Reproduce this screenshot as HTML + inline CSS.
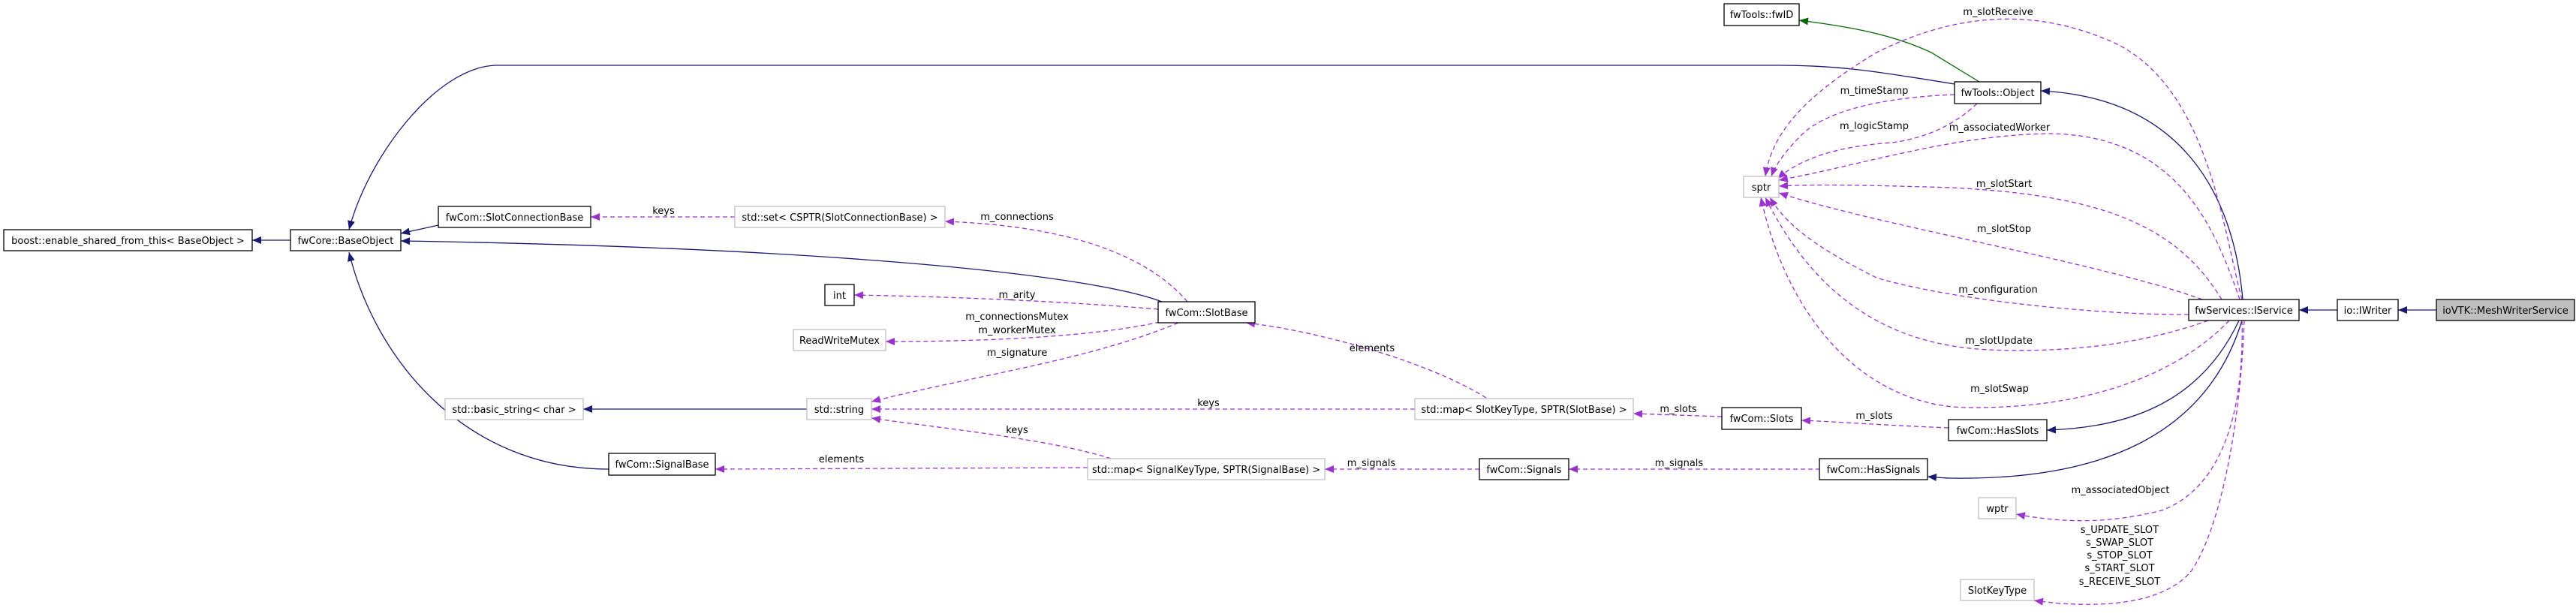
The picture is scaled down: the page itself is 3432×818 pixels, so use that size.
<!DOCTYPE html>
<html><head><meta charset="utf-8"><style>
html,body{margin:0;padding:0;background:#fff;}
svg{display:block;}
text{font-family:"DejaVu Sans","Liberation Sans",sans-serif;font-size:13px;fill:#000;}
.nb{fill:#fff;stroke:#000;stroke-width:1.3;}
.ng{fill:#fff;stroke:#bfbfbf;stroke-width:1.3;}
.b{fill:none;stroke:#191970;stroke-width:1.3;}
.g{fill:none;stroke:#006400;stroke-width:1.3;}
.p{fill:none;stroke:#9a32cd;stroke-width:1.3;stroke-dasharray:6,4;}
</style></head><body>
<svg width="3432" height="818" viewBox="0 0 3432 818" xmlns="http://www.w3.org/2000/svg">
<defs>
<marker id="mb" markerUnits="userSpaceOnUse" markerWidth="14" markerHeight="12" refX="12" refY="5" orient="auto"><path d="M0,0 L12,5 L0,10 Z" fill="#191970"/></marker>
<marker id="mg" markerUnits="userSpaceOnUse" markerWidth="14" markerHeight="12" refX="12" refY="5" orient="auto"><path d="M0,0 L12,5 L0,10 Z" fill="#006400"/></marker>
<marker id="mp" markerUnits="userSpaceOnUse" markerWidth="14" markerHeight="12" refX="12" refY="5" orient="auto"><path d="M0,0 L12,5 L0,10 Z" fill="#9a32cd"/></marker>
</defs>

<!-- blue inheritance -->
<path class="b" marker-end="url(#mb)" d="M387,320 L336,320"/>
<path class="b" marker-end="url(#mb)" d="M584,300 L534,311"/>
<path class="b" marker-end="url(#mb)" d="M1548,402 C1450,365 1100,330 534,321"/>
<path class="b" marker-end="url(#mb)" d="M2604,112 C2500,95 2450,87 2370,87 L660,87 C580,90 490,210 465,306"/>
<path class="b" marker-end="url(#mb)" d="M811,625 C620,625 500,480 465,336"/>
<path class="b" marker-end="url(#mb)" d="M1075,545 L777,545"/>
<path class="b" marker-end="url(#mb)" d="M2988,399 C2975,250 2900,130 2719,121"/>
<path class="g" marker-end="url(#mg)" d="M2637,109 L2573,70 C2520,45 2460,35 2397,27"/>
<path class="b" marker-end="url(#mb)" d="M2983,427 C2930,540 2830,570 2727,573"/>
<path class="b" marker-end="url(#mb)" d="M2987,427 C2940,580 2800,640 2600,637 C2590,637 2580,636 2568,635"/>
<path class="b" marker-end="url(#mb)" d="M3114,413 L3063,413"/>
<path class="b" marker-end="url(#mb)" d="M3246,413 L3195,413"/>

<!-- purple usage -->
<path class="p" marker-end="url(#mp)" d="M979,289 L787,289"/>
<path class="p" marker-end="url(#mp)" d="M1582,402 C1520,330 1400,300 1259,295"/>
<path class="p" marker-end="url(#mp)" d="M1543,412 C1400,400 1250,395 1138,393"/>
<path class="p" marker-end="url(#mp)" d="M1545,429 C1450,450 1300,455 1180,455"/>
<path class="p" marker-end="url(#mp)" d="M1570,430 C1450,480 1300,500 1161,535"/>
<path class="p" marker-end="url(#mp)" d="M1885,545 L1161,545"/>
<path class="p" marker-end="url(#mp)" d="M1480,611 C1400,585 1250,570 1161,557"/>
<path class="p" marker-end="url(#mp)" d="M1980,530 C1900,480 1750,440 1660,430"/>
<path class="p" marker-end="url(#mp)" d="M1449,623 L953,625"/>
<path class="p" marker-end="url(#mp)" d="M1971,625 L1765,625"/>
<path class="p" marker-end="url(#mp)" d="M2425,625 L2090,625"/>
<path class="p" marker-end="url(#mp)" d="M2294,555 L2176,551"/>
<path class="p" marker-end="url(#mp)" d="M2596,570 C2500,566 2450,562 2400,560"/>
<path class="p" marker-end="url(#mp)" d="M2604,126 C2500,130 2430,150 2400,180 C2380,200 2365,220 2360,235"/>
<path class="p" marker-end="url(#mp)" d="M2634,138 C2600,170 2560,185 2520,190 C2450,195 2400,210 2368,238"/>
<path class="p" marker-end="url(#mp)" d="M2987,399 C2960,300 2940,100 2800,50 C2700,10 2600,20 2500,70 C2400,130 2360,180 2352,235"/>
<path class="p" marker-end="url(#mp)" d="M2984,399 C2950,300 2900,180 2730,178 C2600,180 2480,220 2370,240"/>
<path class="p" marker-end="url(#mp)" d="M2960,399 C2900,300 2800,260 2600,250 C2500,247 2420,245 2370,248"/>
<path class="p" marker-end="url(#mp)" d="M2934,399 C2800,350 2500,300 2370,257"/>
<path class="p" marker-end="url(#mp)" d="M2916,419 C2800,420 2600,400 2500,370 C2420,330 2380,300 2358,263"/>
<path class="p" marker-end="url(#mp)" d="M2942,427 C2850,460 2750,470 2650,466 C2520,460 2420,400 2352,263"/>
<path class="p" marker-end="url(#mp)" d="M2970,427 C2900,500 2780,545 2620,543 C2480,540 2380,420 2346,263"/>
<path class="p" marker-end="url(#mp)" d="M2987,427 C2990,550 2960,650 2880,680 C2800,700 2740,695 2686,685"/>
<path class="p" marker-end="url(#mp)" d="M2990,427 C2985,560 2960,700 2920,760 C2880,810 2780,810 2710,800"/>

<!-- edge labels -->
<g text-anchor="middle">
<text x="884" y="285">keys</text>
<text x="1355" y="293">m_connections</text>
<text x="1355" y="397">m_arity</text>
<text x="1355" y="426">m_connectionsMutex</text>
<text x="1355" y="444">m_workerMutex</text>
<text x="1355" y="474">m_signature</text>
<text x="1610" y="541">keys</text>
<text x="1355" y="577">keys</text>
<text x="1828" y="468">elements</text>
<text x="1121" y="616">elements</text>
<text x="1827" y="621">m_signals</text>
<text x="2237" y="621">m_signals</text>
<text x="2236" y="549">m_slots</text>
<text x="2497" y="558">m_slots</text>
<text x="2497" y="125">m_timeStamp</text>
<text x="2497" y="172">m_logicStamp</text>
<text x="2662" y="20">m_slotReceive</text>
<text x="2664" y="174">m_associatedWorker</text>
<text x="2670" y="249">m_slotStart</text>
<text x="2670" y="309">m_slotStop</text>
<text x="2662" y="390">m_configuration</text>
<text x="2663" y="458">m_slotUpdate</text>
<text x="2664" y="522">m_slotSwap</text>
<text x="2825" y="657">m_associatedObject</text>
<text x="2824" y="710">s_UPDATE_SLOT</text>
<text x="2824" y="727">s_SWAP_SLOT</text>
<text x="2824" y="744">s_STOP_SLOT</text>
<text x="2824" y="761">s_START_SLOT</text>
<text x="2824" y="779">s_RECEIVE_SLOT</text>
</g>

<!-- nodes -->
<rect class="nb" x="5" y="306" width="331" height="28"/>
<rect class="nb" x="387" y="306" width="147" height="28"/>
<rect class="nb" x="584" y="275" width="203" height="28"/>
<rect class="ng" x="979" y="275" width="280" height="28"/>
<rect class="nb" x="1099" y="379" width="39" height="28"/>
<rect class="nb" x="1543" y="402" width="129" height="28"/>
<rect class="ng" x="1057" y="439" width="123" height="28"/>
<rect class="ng" x="593" y="531" width="184" height="28"/>
<rect class="ng" x="1075" y="531" width="86" height="28"/>
<rect class="nb" x="811" y="604" width="142" height="29"/>
<rect class="ng" x="1885" y="531" width="291" height="28"/>
<rect class="ng" x="1449" y="611" width="316" height="28"/>
<rect class="nb" x="2294" y="543" width="106" height="29"/>
<rect class="nb" x="1971" y="611" width="119" height="28"/>
<rect class="nb" x="2596" y="559" width="131" height="28"/>
<rect class="nb" x="2424" y="611" width="144" height="28"/>
<rect class="nb" x="2297" y="5" width="100" height="29"/>
<rect class="nb" x="2604" y="109" width="115" height="29"/>
<rect class="ng" x="2323" y="235" width="47" height="28"/>
<rect class="nb" x="2916" y="399" width="147" height="28"/>
<rect class="nb" x="3114" y="399" width="81" height="28"/>
<rect x="3246" y="399" width="184" height="28" fill="#bfbfbf" stroke="#000" stroke-width="1.3"/>
<rect class="ng" x="2636" y="663" width="50" height="28"/>
<rect class="ng" x="2612" y="772" width="98" height="28"/>

<g text-anchor="middle">
<text x="170.5" y="325">boost::enable_shared_from_this&lt; BaseObject &gt;</text>
<text x="460.5" y="325">fwCore::BaseObject</text>
<text x="685.5" y="294">fwCom::SlotConnectionBase</text>
<text x="1119" y="294">std::set&lt; CSPTR(SlotConnectionBase) &gt;</text>
<text x="1118.5" y="398">int</text>
<text x="1607.5" y="421">fwCom::SlotBase</text>
<text x="1118.5" y="458">ReadWriteMutex</text>
<text x="685" y="550">std::basic_string&lt; char &gt;</text>
<text x="1118" y="550">std::string</text>
<text x="882" y="623">fwCom::SignalBase</text>
<text x="2030.5" y="550">std::map&lt; SlotKeyType, SPTR(SlotBase) &gt;</text>
<text x="1607" y="630">std::map&lt; SignalKeyType, SPTR(SignalBase) &gt;</text>
<text x="2347" y="562">fwCom::Slots</text>
<text x="2030.5" y="630">fwCom::Signals</text>
<text x="2661.5" y="578">fwCom::HasSlots</text>
<text x="2496" y="630">fwCom::HasSignals</text>
<text x="2347" y="24">fwTools::fwID</text>
<text x="2661.5" y="128">fwTools::Object</text>
<text x="2346.5" y="254">sptr</text>
<text x="2989.5" y="418">fwServices::IService</text>
<text x="3154.5" y="418">io::IWriter</text>
<text x="3338" y="418">ioVTK::MeshWriterService</text>
<text x="2661" y="682">wptr</text>
<text x="2661" y="791">SlotKeyType</text>
</g>
</svg>
</body></html>
